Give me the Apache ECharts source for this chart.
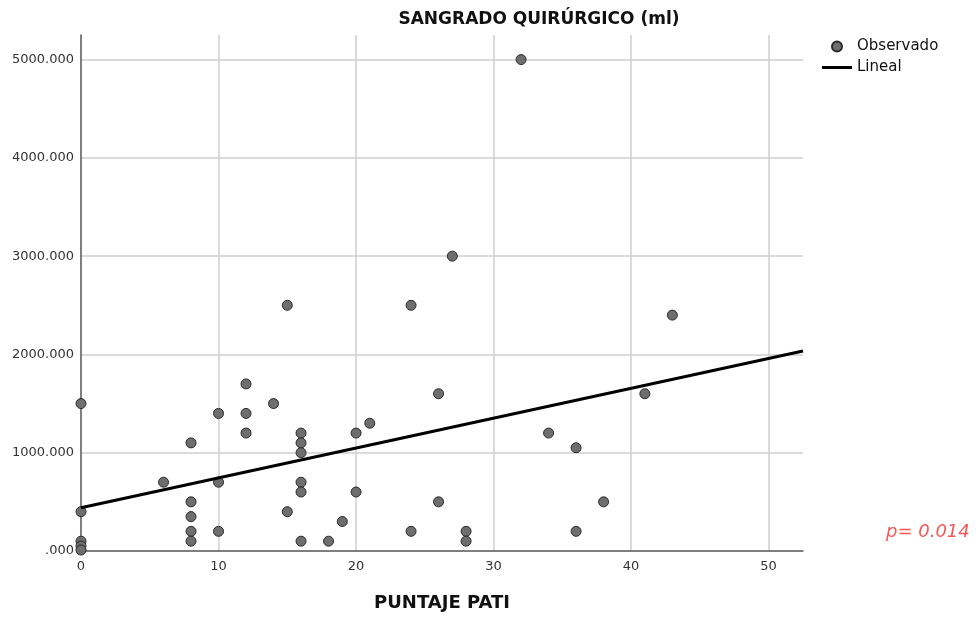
<!DOCTYPE html>
<html>
<head>
<meta charset="utf-8">
<script src="https://cdn.jsdelivr.net/npm/echarts@6/dist/echarts.min.js"></script>
<style>
  html, body { margin: 0; padding: 0; background: #fff; }
  #main { width: 976px; height: 619px; }
</style>
</head>
<body>
<div id="main"></div>
<script>
var chartDom = document.getElementById('main');
var myChart = echarts.init(chartDom);

// puntaje PATI (x) and sangrado quirurgico in ml (y), one entry per patient
const puntaje = [0, 0, 0, 0, 0, 6, 8, 8, 8, 8, 8, 10, 10, 10, 12, 12, 12, 14, 15, 15,
  16, 16, 16, 16, 16, 16, 18, 19, 20, 20, 21, 24, 24, 26, 26, 27, 28, 28, 32, 34,
  36, 36, 38, 41, 43];
const sangrado = [1500, 400, 100, 50, 10, 700, 1100, 500, 350, 200, 100, 1400, 700, 200, 1700, 1400, 1200, 1500, 2500, 400,
  1200, 1100, 1000, 700, 600, 100, 100, 300, 1200, 600, 1300, 2500, 200, 1600, 500, 3000, 200, 100, 5000, 1200,
  1050, 200, 500, 1600, 2400];

// fitted linear line at both ends
const lineal = [[0, 440], [52.5, 2035]];

const xTicks = [0, 10, 20, 30, 40, 50];
const yTicks = [0, 1000, 2000, 3000, 4000, 5000];

const font = 'DejaVu Sans';
const observado = puntaje.map((x, i) => [x, sangrado[i]]);

var option = {
  animation: false,
  title: {
    text: 'SANGRADO QUIRÚRGICO (ml)',
    left: 534,
    top: 6,
    textAlign: 'center',
    textStyle: { fontFamily: font, fontSize: 17, fontWeight: 'bold', color: '#111' }
  },
  legend: {
    orient: 'vertical',
    left: 817,
    top: 34,
    itemWidth: 30,
    itemHeight: 10,
    itemGap: 6,
    symbolKeepAspect: true,
    textStyle: { fontFamily: font, fontSize: 15, color: '#111', padding: [0, 0, 0, 0] },
    data: [
      { name: 'Observado', icon: 'circle' },
      { name: 'Lineal', icon: 'path://M0,0L30,0L30,3L0,3Z' }
    ]
  },
  grid: { left: 81, right: 173, top: 35, bottom: 68 },
  xAxis: {
    type: 'value',
    min: 0,
    max: 52.5,
    interval: 10,
    name: 'PUNTAJE PATI',
    nameLocation: 'middle',
    nameGap: 43,
    nameTextStyle: { fontFamily: font, fontSize: 18, fontWeight: 'bold', color: '#111' },
    axisLine: { lineStyle: { color: '#555', width: 1.5 } },
    axisTick: { show: false },
    axisLabel: {
      showMaxLabel: false,
      margin: 9,
      fontFamily: font, fontSize: 13, color: '#333',
      formatter: (v) => (xTicks.includes(v) ? String(v) : '')
    },
    splitLine: { show: true, showMinLine: false, showMaxLine: false, lineStyle: { color: '#cfcfcf', width: 1.5 } }
  },
  yAxis: {
    type: 'value',
    min: 0,
    max: 5250,
    interval: 1000,
    axisLine: { show: true, lineStyle: { color: '#555', width: 1.5 } },
    axisTick: { show: false },
    axisLabel: {
      showMaxLabel: false,
      margin: 7,
      fontFamily: font, fontSize: 13, color: '#333',
      formatter: (v) => (yTicks.includes(v) ? (v === 0 ? '.000' : v.toFixed(3)) : '')
    },
    splitLine: { show: true, showMinLine: false, showMaxLine: false, lineStyle: { color: '#cfcfcf', width: 1.5 } }
  },
  series: [
    {
      name: 'Observado',
      type: 'scatter',
      symbolSize: 10,
      itemStyle: { color: '#6e6e6e', borderColor: '#2a2a2a', borderWidth: 1, opacity: 1 },
      data: observado,
      z: 3
    },
    {
      name: 'Lineal',
      type: 'line',
      symbol: 'none',
      lineStyle: { color: '#000', width: 3 },
      itemStyle: { color: '#000' },
      data: lineal,
      z: 4
    }
  ],
  graphic: [
    {
      type: 'text',
      left: 886,
      top: 523,
      style: {
        text: 'p= 0.014',
        fontFamily: font,
        fontSize: 18,
        fontStyle: 'italic',
        fill: '#f25a5a'
      }
    }
  ]
};

option && myChart.setOption(option);
</script>
</body>
</html>
